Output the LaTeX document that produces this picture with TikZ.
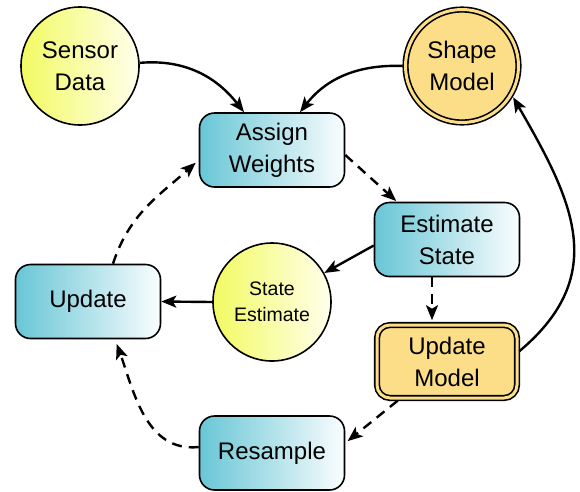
\documentclass[tikz,border=0pt]{standalone}
\usepackage{fontspec}
\setmainfont{Liberation Sans}
\usetikzlibrary{arrows.meta}

\definecolor{boxteal}{RGB}{104,198,214}
\definecolor{boxwhite}{RGB}{250,253,254}
\definecolor{yellowL}{RGB}{242,250,98}
\definecolor{yellowR}{RGB}{255,255,236}
\definecolor{modelfill}{RGB}{252,222,136}

\begin{document}
\begin{tikzpicture}[x=1pt,y=1pt,
  bigtext/.style={font=\fontsize{24}{32}\selectfont},
  procbox/.style={draw, line width=1.6pt, rounded corners=15pt,
    minimum width=145pt, minimum height=74pt, inner sep=0pt,
    left color=boxteal, right color=boxwhite, align=center, bigtext},
  databall/.style={circle, draw, line width=1.6pt, minimum size=118pt,
    inner sep=0pt, left color=yellowL, right color=yellowR, align=center},
  modelbox/.style={draw, line width=1.6pt, double=modelfill, double distance=3pt,
    fill=modelfill, rounded corners=13pt, minimum width=140pt,
    minimum height=73pt, inner sep=0pt, align=center, bigtext},
  modelball/.style={circle, draw, line width=1.6pt, double=modelfill,
    double distance=3pt, fill=modelfill, minimum size=113pt, inner sep=0pt,
    align=center, bigtext},
  conn/.style={line width=2.4pt, -{Stealth[length=15pt,width=12pt,inset=3.5pt]}},
  dconn/.style={conn, dash pattern=on 10pt off 7pt}
]
\useasboundingbox (0,0) rectangle (580,-491);

% nodes
\node[databall, bigtext] (sd) at (80,-66) {Sensor\\Data};
\node[modelball] (sm) at (462,-66) {Shape\\Model};
\node[procbox] (aw) at (272,-150) {Assign\\Weights};
\node[procbox] (es) at (447,-239.5) {Estimate\\State};
\node[databall, font=\fontsize{19.5}{26}\selectfont] (se) at (272,-302) {State\\Estimate};
\node[procbox] (up) at (88,-301.5) {Update};
\node[modelbox] (um) at (447,-361.5) {Update\\Model};
\node[procbox] (rs) at (272,-453) {Resample};

% connectors
\draw[conn] (sd.3) to[out=5,in=128] ([xshift=-28pt]aw.north);
\draw[conn, shorten <=2pt] (sm.west) to[out=178,in=52] ([xshift=28pt]aw.north);
\draw[dconn, shorten >=1pt] ([yshift=-5pt]aw.east) -- ([xshift=-50pt]es.north);
\draw[dconn, shorten >=4pt] ([xshift=-15pt]es.south) -- ([xshift=-15pt]um.north);
\draw[conn] ([yshift=-6pt]es.west) -- (se);
\draw[conn] (se.west) -- (up.east);
\draw[dconn, shorten >=4pt] ([xshift=25pt]up.north) to[out=72,in=-138] ([yshift=-10pt]aw.west);
\draw[dconn, shorten <=3pt, shorten >=3pt] ([xshift=-47pt]um.south) -- ([yshift=10pt]rs.east);
\draw[dconn, shorten >=5pt] ([yshift=6pt]rs.west) to[out=186,in=-70] ([xshift=27pt]up.south);
\draw[conn, shorten <=2pt, shorten >=3pt] ([yshift=9pt]um.east) to[out=40,in=-60,looseness=1.2] (sm.-30);
\end{tikzpicture}
\end{document}
